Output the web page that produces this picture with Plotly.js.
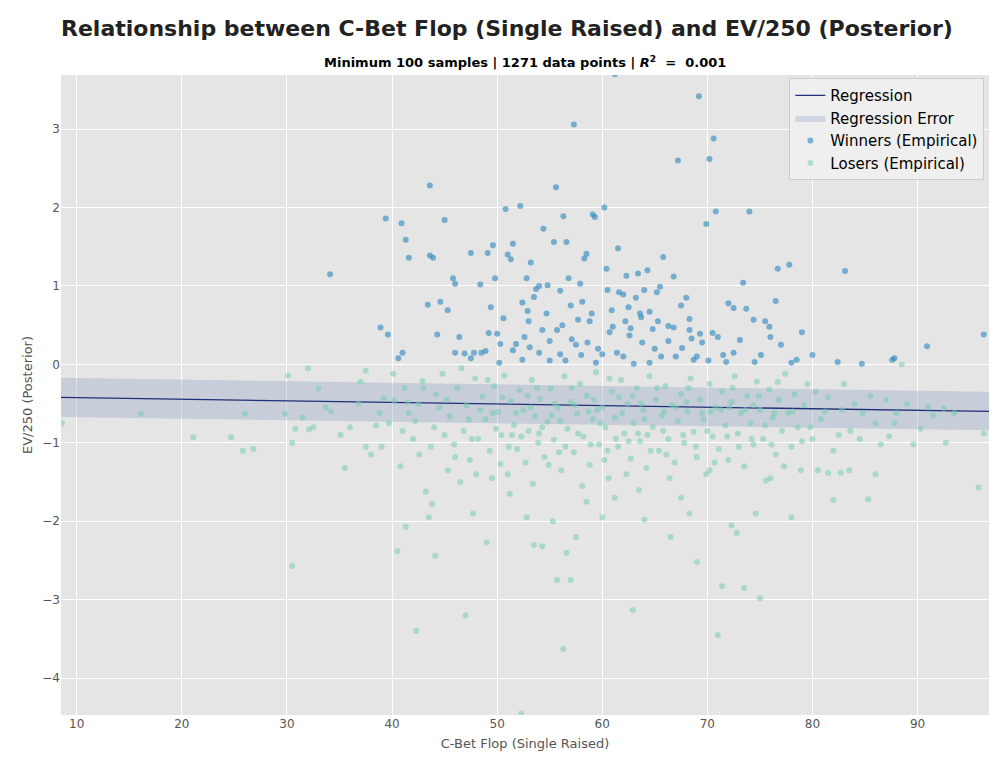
<!DOCTYPE html>
<html><head><meta charset="utf-8">
<script src="https://cdn.plot.ly/plotly-3.0.1.min.js"></script>
<style>body{margin:0}</style></head><body>
<div id="c" style="width:1000px;height:770px"></div>
<script>
const winners = [[34.1,1.15],[38.9,0.47],[39.4,1.86],[39.6,0.38],[40.6,0.08],[40.9,1.80],[41.0,0.15],[41.3,1.59],[41.6,1.36],[43.4,0.76],[43.6,2.28],[43.6,1.39],[43.9,1.36],[44.3,0.38],[44.6,0.80],[45.0,1.84],[45.3,0.69],[45.8,1.10],[46.0,1.03],[46.0,0.15],[46.9,0.14],[47.5,1.42],[47.8,0.15],[48.4,1.02],[48.9,0.17],[49.1,1.42],[49.4,0.73],[49.6,1.52],[49.8,1.10],[50.0,0.39],[50.3,0.26],[50.8,1.98],[51.0,1.40],[51.3,1.34],[51.5,1.54],[51.8,0.26],[52.2,2.02],[52.4,0.79],[52.6,0.35],[52.8,1.10],[53.0,0.55],[53.2,1.30],[53.5,0.86],[53.7,0.96],[54.0,1.00],[54.3,0.44],[54.4,1.73],[54.8,1.01],[55.0,0.30],[55.4,1.56],[55.6,2.26],[56.0,0.94],[56.3,1.89],[56.6,1.56],[56.8,1.10],[57.0,0.75],[57.3,3.06],[57.5,0.25],[57.9,1.03],[58.1,0.80],[58.3,1.35],[58.5,1.41],[58.8,0.55],[59.1,1.91],[59.3,1.88],[59.6,0.20],[60.2,2.00],[60.4,1.22],[60.5,0.95],[60.7,0.41],[61.2,3.70],[61.5,1.48],[61.6,0.92],[62.0,0.89],[62.3,1.13],[62.5,0.73],[62.7,0.46],[63.2,0.85],[63.4,1.16],[63.7,0.60],[64.0,0.95],[64.3,1.20],[64.5,0.67],[64.8,0.45],[65.2,0.92],[65.5,0.99],[65.8,1.37],[66.3,0.30],[66.8,1.12],[67.2,2.60],[67.5,0.75],[68.0,0.85],[68.3,0.44],[68.7,0.06],[69.2,3.42],[69.5,0.28],[69.9,1.79],[70.2,2.62],[70.6,2.88],[70.8,1.95],[71.0,0.35],[71.5,0.12],[72.0,0.78],[72.5,0.72],[73.1,0.31],[73.4,1.04],[73.7,0.71],[74.0,1.95],[74.4,0.57],[75.1,0.12],[75.5,0.55],[75.9,0.48],[76.5,0.81],[76.7,1.22],[77.0,0.25],[77.8,1.27],[78.5,0.06],[79.0,0.41],[82.4,0.03],[83.1,1.19],[84.7,0.01],[87.6,0.06],[87.8,0.08],[90.9,0.23],[96.3,0.38],
[47.5,0.08],[48.5,0.15],[50.2,0.02],[51.5,0.18],[52.4,0.06],[53.1,0.22],[54.0,0.15],[55.0,0.05],[55.7,0.44],[56.0,0.13],[56.5,0.05],[57.1,0.32],[58.0,0.12],[58.6,0.28],[59.4,0.02],[60.0,0.13],[61.0,0.48],[61.4,0.15],[62.0,0.10],[62.6,0.37],[63.0,0.01],[63.8,0.28],[64.5,0.02],[65.0,0.20],[65.6,0.10],[66.3,0.49],[67.0,0.10],[67.6,0.21],[68.5,0.33],[69.0,0.10],[70.1,0.05],[70.5,0.40],[71.8,0.03],[72.5,0.15],[74.5,0.03],[76.0,0.35],[78.0,0.02],[80.0,0.12],[46.4,0.35],[49.2,0.40],[50.6,0.59],[52.9,0.68],[54.7,0.65],[56.2,0.50],[57.7,0.57],[59.0,0.65],[60.9,0.69],[62.2,0.55],[63.6,0.65],[65.3,0.55],[66.8,0.47],[68.3,0.58],[69.3,0.39]];
const losers = [[8.6,-0.75],[16.1,-0.63],[21.1,-0.93],[24.7,-0.93],[25.8,-1.10],[26.0,-0.63],[26.8,-1.08],[29.8,-0.63],[30.1,-0.14],[30.5,-2.57],[30.5,-1.00],[30.8,-0.82],[31.5,-0.68],[32.0,-0.05],[32.1,-0.83],[32.5,-0.80],[33.0,-0.31],[33.7,-0.55],[34.2,-0.60],[35.5,-1.32],[35.1,-0.90],[36.8,-0.50],[37.0,-0.22],[37.5,-1.05],[37.5,-0.08],[38.0,-1.15],[38.5,-0.78],[38.8,-0.62],[39.2,-0.43],[39.7,-0.75],[40.2,-0.46],[40.5,-2.38],[40.8,-1.30],[41.0,-0.85],[41.3,-2.07],[41.6,-0.62],[42.0,-0.95],[42.3,-3.40],[42.6,-1.15],[43.0,-0.30],[43.2,-1.62],[43.5,-1.95],[43.8,-1.78],[44.1,-2.44],[44.5,-0.55],[45.0,-0.90],[45.3,-1.35],[46.5,-1.50],[47.0,-3.20],[47.7,-1.90],[49.0,-2.27],[49.5,-1.45],[50.3,-1.27],[51.2,-1.65],[52.3,-4.45],[52.8,-1.95],[53.5,-2.30],[54.3,-2.32],[55.3,-2.00],[55.7,-2.75],[56.3,-3.63],[56.6,-2.40],[57.0,-2.75],[57.5,-2.20],[58.5,-1.75],[60.0,-1.95],[61.2,-1.70],[62.9,-3.13],[63.5,-1.60],[64.0,-1.98],[66.5,-2.20],[67.5,-1.70],[68.3,-1.90],[69.0,-2.52],[70.2,-1.35],[71.0,-3.45],[71.4,-2.83],[72.3,-2.05],[72.8,-2.15],[73.5,-2.85],[74.6,-1.90],[75.0,-2.98],[76.0,-1.45],[78.0,-1.95],[80.5,-1.35],[81.5,-1.38],[82.0,-1.73],[82.7,-1.38],[83.5,-1.35],[84.5,-0.95],[85.3,-1.72],[86.0,-1.40],[87.3,-0.92],[88.0,-0.62],[88.5,0.0],[89.6,-1.02],[91.0,-0.55],[91.5,-0.65],[92.5,-0.56],[92.7,-1.00],[95.8,-1.57],[96.3,-0.88],[87.0,-0.45],[86.0,-0.75],[84.0,-0.50],[83.0,-0.25],[82.5,-0.90],[81.2,-0.60],[80.3,-0.35],[79.8,-0.80],
[40.1,-0.12],[41.5,-0.48],[42.2,-0.72],[42.9,-0.21],[43.7,-1.05],[44.2,-0.38],[44.8,-0.12],[45.5,-0.66],[45.9,-1.02],[46.2,-0.30],[46.8,-0.85],[47.1,-0.52],[47.4,-1.22],[47.9,-0.18],[48.2,-0.95],[48.6,-0.41],[48.9,-0.70],[49.3,-1.10],[49.7,-0.28],[50.1,-0.61],[50.4,-0.90],[50.7,-0.14],[51.0,-1.40],[51.3,-0.47],[51.6,-0.77],[51.9,-1.08],[52.1,-0.33],[52.5,-0.58],[52.7,-1.25],[53.0,-0.85],[53.3,-0.20],[53.6,-0.66],[53.9,-1.00],[54.1,-0.44],[54.5,-1.18],[54.8,-0.73],[55.1,-0.31],[55.4,-0.96],[55.8,-0.55],[56.1,-1.35],[56.4,-0.15],[56.7,-0.82],[57.0,-0.48],[57.3,-1.12],[57.6,-0.63],[57.9,-0.25],[58.2,-0.92],[58.5,-0.40],[58.8,-1.28],[59.1,-0.70],[59.4,-0.10],[59.7,-1.02],[60.0,-0.55],[60.3,-0.80],[60.6,-1.45],[60.9,-0.35],[61.2,-0.68],[61.5,-1.05],[61.8,-0.20],[62.1,-0.88],[62.4,-0.50],[62.7,-1.20],[63.0,-0.75],[63.3,-0.30],[63.6,-0.98],[63.9,-0.58],[64.2,-1.32],[64.5,-0.15],[64.8,-0.80],[65.1,-0.45],[65.4,-1.10],[65.7,-0.65],[66.0,-0.28],[66.3,-0.95],[66.6,-0.52],[66.9,-1.25],[67.2,-0.72],[67.5,-0.38],[67.8,-1.00],[68.1,-0.60],[68.4,-0.18],[68.7,-0.86],[69.0,-1.18],[69.3,-0.45],[69.6,-0.70],[69.9,-1.40],[70.2,-0.25],[70.5,-0.92],[70.8,-0.55],[71.1,-1.08],[71.4,-0.35],[71.7,-0.78],[72.0,-1.22],[72.3,-0.48],[72.6,-0.15],[72.9,-0.88],[73.2,-0.62],[73.5,-1.30],[73.8,-0.40],[74.1,-0.75],[74.4,-1.02],[74.7,-0.22],[75.0,-0.58],[75.3,-0.95],[75.6,-1.48],[75.9,-0.32],[76.2,-0.68],[76.5,-1.15],[76.8,-0.45],[77.1,-0.85],[77.4,-0.12],[77.7,-0.62],[78.0,-1.05],[78.3,-0.38],[78.6,-0.80],[78.9,-1.35],[79.2,-0.52],[79.5,-0.25],[80.0,-0.95],[80.8,-0.70],[81.5,-0.42],[82.0,-1.10],[82.8,-0.58],[83.6,-0.85],[84.8,-0.62],[85.5,-0.40],[86.5,-1.02],[87.8,-0.75],[89.0,-0.50],[90.3,-0.82],[93.5,-0.62],
[45.2,-0.45],[46.0,-1.18],[46.6,-0.05],[47.3,-0.70],[48.0,-1.40],[48.4,-0.58],[49.1,-0.20],[49.9,-0.82],[50.5,-0.42],[51.1,-1.05],[51.8,-0.62],[52.3,-0.92],[52.9,-0.40],[53.4,-1.52],[53.8,-0.30],[54.3,-0.80],[54.9,-1.28],[55.5,-0.50],[56.0,-0.72],[56.5,-1.05],[57.1,-0.30],[57.7,-0.88],[58.1,-1.55],[58.7,-0.60],[59.2,-0.45],[59.8,-0.75],[60.2,-1.22],[60.7,-0.18],[61.3,-0.95],[61.9,-0.62],[62.3,-1.40],[62.9,-0.40],[63.4,-0.88],[64.0,-0.70],[64.6,-1.10],[65.2,-0.30],[65.8,-0.85],[66.4,-1.45],[67.0,-0.55],[67.7,-0.90],[68.2,-0.30],[68.9,-1.05],[69.5,-0.62],[70.0,-0.85],[70.7,-1.25],[71.3,-0.58],[71.9,-0.92],[72.4,-0.30],[73.0,-1.05],[73.6,-0.58],[74.2,-0.95],[74.9,-0.40],[75.5,-0.78],[76.1,-1.02],[76.7,-0.22],[77.3,-1.30],[78.1,-0.60],[79.0,-0.98],[53.2,-0.55],[55.2,-0.65],[57.4,-0.52],[59.5,-0.58],[61.6,-0.42],[63.7,-0.50],[65.9,-0.60],[68.0,-0.48],[70.3,-0.60],[72.1,-0.55],[74.4,-0.52],[76.4,-0.62],[58.9,-1.02],[60.5,-1.10],[62.5,-0.98],[64.3,-0.90],[66.1,-1.15],[55.9,-1.12],[54.0,-0.88],[51.4,-0.90],[49.6,-0.62],[47.6,-0.95],[44.0,-0.80],[42.5,-0.50],[41.2,-0.30],[39.0,-1.05],[36.0,-0.80]];
const regX = [8.5, 96.8];
const regY = [-0.42, -0.60];
const bandUpper = [-0.17, -0.35];
const bandLower = [-0.67, -0.84];

const traces = [
 {x:regX.concat(regX.slice().reverse()), y:bandUpper.concat(bandLower.slice().reverse()), fill:'toself', mode:'lines', line:{width:0}, fillcolor:'rgba(128,150,190,0.30)', name:'Regression Error', legendrank:2},
 {x:regX, y:regY, mode:'lines', line:{color:'#1f2f7a', width:1.3}, name:'Regression', legendrank:1},
 {x:winners.map(p=>p[0]), y:winners.map(p=>p[1]), mode:'markers', marker:{color:'rgba(40,134,190,0.6)', size:6}, name:'Winners (Empirical)', legendrank:3},
 {x:losers.map(p=>p[0]), y:losers.map(p=>p[1]), mode:'markers', marker:{color:'rgba(120,205,175,0.55)', size:6}, name:'Losers (Empirical)', legendrank:4}
];
const layout = {
 width:1000, height:770, paper_bgcolor:'#fff', plot_bgcolor:'#E5E5E5',
 margin:{l:61, r:11, t:75, b:55},
 font:{family:'DejaVu Sans', color:'#555'},
 title:{text:'<b>Relationship between C-Bet Flop (Single Raised) and EV/250 (Posterior)</b>', x:0.061, xanchor:'left', y:0.973, font:{size:22, color:'#222'}},
 annotations:[{text:'<b>Minimum 100 samples | 1271 data points | <i>R</i><sup>2</sup>  =  0.001</b>', xref:'paper', yref:'paper', x:0.5, y:1.005, yanchor:'bottom', showarrow:false, font:{size:13, color:'#000'}}],
 xaxis:{range:[8.5,96.8], tickvals:[10,20,30,40,50,60,70,80,90], gridcolor:'#fff', zeroline:false, ticks:'', tickfont:{size:12}, title:{text:'C-Bet Flop (Single Raised)', font:{size:13}, standoff:8}},
 yaxis:{range:[-4.47,3.69], tickvals:[-4,-3,-2,-1,0,1,2,3], gridcolor:'#fff', zeroline:false, ticks:'', tickfont:{size:12}, title:{text:'EV/250 (Posterior)', font:{size:13}, standoff:6}},
 legend:{x:0.995, y:0.995, xanchor:'right', yanchor:'top', bgcolor:'rgba(240,240,240,0.9)', bordercolor:'#ccc', borderwidth:1, font:{size:15, color:'#000'}, traceorder:'normal'},
 showlegend:true
};
Plotly.newPlot('c', traces, layout, {displayModeBar:false});
</script></body></html>
